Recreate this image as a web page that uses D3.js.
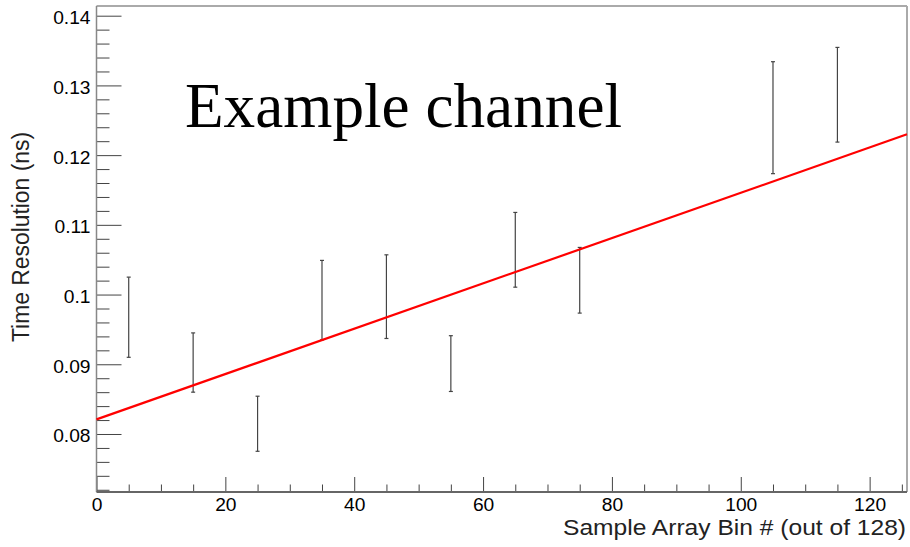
<!DOCTYPE html>
<html>
<head>
<meta charset="utf-8">
<script src="https://cdn.jsdelivr.net/npm/d3@7"></script>
<style>
  html, body { margin: 0; padding: 0; background: #fff; }
  svg { display: block; }
</style>
</head>
<body>
<svg id="chart" width="910" height="547"></svg>
<script>
// Measured time resolution per sample-array bin, with its uncertainty
const binX = [5, 15, 25, 35, 45, 55, 65, 75, 105, 115];
const resolution = [0.09675, 0.09025, 0.08147, 0.0992, 0.0997, 0.0901, 0.10642, 0.10205, 0.12537, 0.12866];
const resolutionErr = [0.00575, 0.00425, 0.00395, 0.0057, 0.0060, 0.0040, 0.00536, 0.00471, 0.00803, 0.00679];

// Linear fit parameters (p0 + p1 * bin)
const fitIntercept = 0.0821;
const fitSlope = 0.000325;

// Axis ranges and tick labels
const xDomain = [0, 125.8];
const yDomain = [0.07168, 0.14139];
const xMajorTicks = [0, 20, 40, 60, 80, 100, 120];
const xTickLabels = ["0", "20", "40", "60", "80", "100", "120"];
const yMajorTicks = [0.08, 0.09, 0.10, 0.11, 0.12, 0.13, 0.14];
const yTickLabels = ["0.08", "0.09", "0.1", "0.11", "0.12", "0.13", "0.14"];

const xTitle = "Sample Array Bin # (out of 128)";
const yTitle = "Time Resolution (ns)";
const annotation = "Example channel";

const frame = { left: 96.5, right: 907, top: 6, bottom: 492 };
const sans = "'Liberation Sans', Arial, Helvetica, sans-serif";
const yLabelSize = 19;
const xLabelSize = 18;
// Labels are set in a tall, slightly condensed face
const labelWidth = 16 * 1.2;

const svg = d3.select("#chart");

const x = d3.scaleLinear().domain(xDomain).range([frame.left, frame.right]);
const y = d3.scaleLinear().domain(yDomain).range([frame.bottom, frame.top]);

// Frame: light top/right edges
svg.append("line")
  .attr("x1", frame.left).attr("x2", frame.right)
  .attr("y1", frame.top).attr("y2", frame.top)
  .attr("stroke", "#aaa").attr("stroke-width", 2);
svg.append("line")
  .attr("x1", frame.right).attr("x2", frame.right)
  .attr("y1", frame.top).attr("y2", frame.bottom)
  .attr("stroke", "#aaa").attr("stroke-width", 2);

// Minor ticks
const xMinor = d3.range(0, 126, 5).filter(v => !xMajorTicks.includes(v));
const yMinor = d3.range(36, 71).map(k => +(k * 0.002).toFixed(3))
  .filter(v => !yMajorTicks.some(t => Math.abs(t - v) < 1e-9));

const xMinorAxis = svg.append("g")
  .attr("transform", `translate(0,${frame.bottom})`)
  .call(d3.axisBottom(x).tickValues(xMinor).tickSize(-7.5).tickFormat(""));
const yMinorAxis = svg.append("g")
  .attr("transform", `translate(${frame.left},0)`)
  .call(d3.axisLeft(y).tickValues(yMinor).tickSize(-13).tickFormat(""));

// Major ticks with labels
const xAxis = svg.append("g")
  .attr("transform", `translate(0,${frame.bottom})`)
  .call(d3.axisBottom(x).tickValues(xMajorTicks).tickSize(-15).tickPadding(6)
    .tickFormat((d, i) => xTickLabels[i]));
const yAxis = svg.append("g")
  .attr("transform", `translate(${frame.left},0)`)
  .call(d3.axisLeft(y).tickValues(yMajorTicks).tickSize(-25).tickPadding(6)
    .tickFormat((d, i) => yTickLabels[i]));

[xMinorAxis, yMinorAxis, xAxis, yAxis].forEach(g => {
  g.selectAll(".domain").remove();
  g.selectAll(".tick line").attr("stroke", "#444").attr("stroke-width", 1);
});

xAxis.selectAll("text")
  .attr("font-family", sans).attr("font-size", xLabelSize).attr("fill", "#000");
yAxis.selectAll("text")
  .attr("font-family", sans).attr("font-size", yLabelSize).attr("fill", "#000")
  .attr("dy", "0.42em");

[[xAxis, xLabelSize], [yAxis, yLabelSize]].forEach(([g, size]) => g.selectAll("text").each(function () {
  const w = this.getComputedTextLength();
  d3.select(this).attr("textLength", w * labelWidth / size).attr("lengthAdjust", "spacingAndGlyphs");
}));

// Axis lines: left and bottom
svg.append("line")
  .attr("x1", frame.left).attr("x2", frame.left)
  .attr("y1", frame.top).attr("y2", frame.bottom)
  .attr("stroke", "#888").attr("stroke-width", 1.5);
svg.append("line")
  .attr("x1", frame.left).attr("x2", frame.right)
  .attr("y1", frame.bottom).attr("y2", frame.bottom)
  .attr("stroke", "#666").attr("stroke-width", 2);

// Axis titles
svg.append("text")
  .attr("x", 906).attr("y", 535)
  .attr("text-anchor", "end")
  .attr("font-family", sans).attr("font-size", 22).attr("fill", "#222")
  .attr("textLength", 343).attr("lengthAdjust", "spacingAndGlyphs")
  .text(xTitle);

svg.append("text")
  .attr("transform", "translate(28.5,237) rotate(-90)")
  .attr("text-anchor", "middle")
  .attr("font-family", sans).attr("font-size", 23).attr("fill", "#222")
  .attr("textLength", 210).attr("lengthAdjust", "spacingAndGlyphs")
  .text(yTitle);

// Error bars
const points = binX.map((b, i) => ({ b, v: resolution[i], e: resolutionErr[i] }));
const bars = svg.append("g").attr("stroke", "#444").attr("stroke-width", 1.2);
points.forEach(p => {
  const cx = x(p.b);
  bars.append("line")
    .attr("x1", cx).attr("x2", cx)
    .attr("y1", y(p.v + p.e)).attr("y2", y(p.v - p.e));
  [p.v + p.e, p.v - p.e].forEach(v => {
    bars.append("line")
      .attr("x1", cx - 2).attr("x2", cx + 2)
      .attr("y1", y(v)).attr("y2", y(v));
  });
});

// Linear fit across the full x range
const fitLine = d3.line()
  .x(d => x(d))
  .y(d => y(fitIntercept + fitSlope * d));
svg.append("path")
  .datum(xDomain)
  .attr("d", fitLine)
  .attr("fill", "none")
  .attr("stroke", "#ff0000")
  .attr("stroke-width", 2.2);

// Annotation
svg.append("text")
  .attr("x", 185).attr("y", 127)
  .attr("font-family", "'Liberation Serif', 'Times New Roman', serif")
  .attr("font-size", 64).attr("fill", "#000")
  .attr("textLength", 437).attr("lengthAdjust", "spacingAndGlyphs")
  .text(annotation);
</script>
</body>
</html>
